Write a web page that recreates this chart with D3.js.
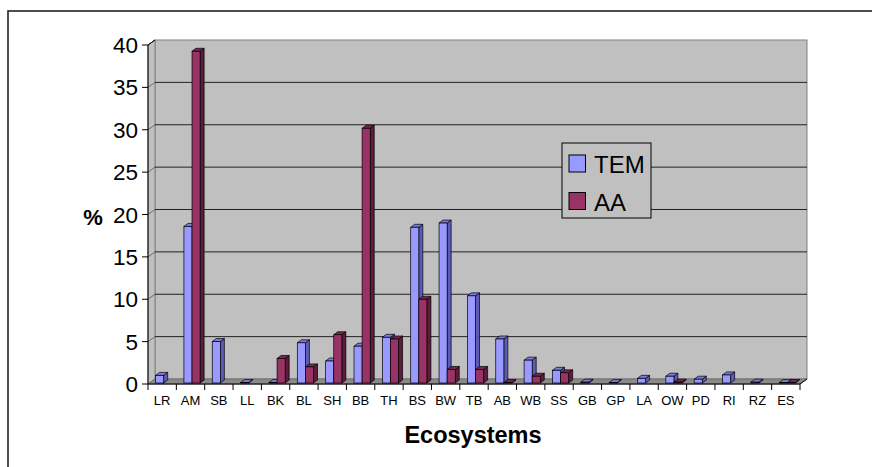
<!DOCTYPE html>
<html lang="en">
<head>
<meta charset="UTF-8">
<title>ecosystems</title>
<script src="https://cdn.jsdelivr.net/npm/d3@7"></script>
<style>
  body { margin: 0; background: #fff; }
  text { font-family: Arial, "Liberation Sans", sans-serif; }
</style>
</head>
<body>
<script>
// data
const categories = ['LR', 'AM', 'SB', 'LL', 'BK', 'BL', 'SH', 'BB', 'TH', 'BS', 'BW', 'TB',
  'AB', 'WB', 'SS', 'GB', 'GP', 'LA', 'OW', 'PD', 'RI', 'RZ', 'ES'];
const temValues = [0.9, 18.5, 4.9, 0.05, 0.05, 4.75, 2.6, 4.35, 5.4, 18.4, 18.9, 10.3,
  5.2, 2.7, 1.5, 0.1, 0.05, 0.55, 0.8, 0.45, 0.95, 0.1, 0.05];
const aaValues = [null, 39.2, null, null, 2.9, 1.9, 5.7, 30.1, 5.2, 9.9, 1.6, 1.6,
  0.05, 0.8, 1.2, null, null, null, 0.1, null, null, null, 0.05];
const yTicks = [0, 5, 10, 15, 20, 25, 30, 35, 40];
const seriesNames = ['TEM', 'AA'];

const width = 872, height = 467;
const x0 = 148, x1 = 800, yBase = 384;
const dx = 7, dy = -5;           // depth of the 3d walls
const bdx = 4, bdy = -3;         // depth of each bar

const colors = {
  TEM: { front: '#9999ff', side: '#5c5cb8', top: '#7a7ae0' },
  AA: { front: '#993366', side: '#5a1e3c', top: '#7a2852' }
};

const svg = d3.select('body').append('svg')
  .attr('width', width)
  .attr('height', height);

// outer frame
svg.append('rect')
  .attr('x', 8).attr('y', 11)
  .attr('width', 900).attr('height', 500)
  .attr('fill', 'none')
  .attr('stroke', '#222')
  .attr('stroke-width', 1.6);

const x = d3.scaleBand().domain(categories).range([x0, x1]);
const yFront = d3.scaleLinear().domain([0, 40]).range([yBase, 45]);
const yBack = d3.scaleLinear().domain([0, 40]).range([yBase + dy, 45 + dy]);
const yBar = d3.scaleLinear().domain([0, 40]).range([yBase - 1, 44.5]);

// walls
const walls = svg.append('g').attr('class', 'walls');
walls.append('rect')
  .attr('x', x0 + dx).attr('y', yBack(40))
  .attr('width', x1 - x0).attr('height', yBack(0) - yBack(40))
  .attr('fill', '#c0c0c0')
  .attr('stroke', '#808080');
walls.append('polygon')
  .attr('points', [[x0, yFront(40)], [x0 + dx, yBack(40)], [x0 + dx, yBack(0)], [x0, yFront(0)]].join(' '))
  .attr('fill', '#c0c0c0')
  .attr('stroke', '#808080');
walls.append('polygon')
  .attr('points', [[x0, yFront(0)], [x0 + dx, yBack(0)], [x1 + dx, yBack(0)], [x1, yFront(0)]].join(' '))
  .attr('fill', '#8a8a8a')
  .attr('stroke', '#707070');

// gridlines on back and side wall
const grid = svg.append('g').attr('class', 'grid');
grid.selectAll('line.h')
  .data(yTicks.filter(d => d > 0 && d < 40))
  .enter().append('line')
  .attr('class', 'h')
  .attr('x1', x0 + dx).attr('x2', x1 + dx)
  .attr('y1', d => yBack(d)).attr('y2', d => yBack(d))
  .attr('stroke', '#222').attr('stroke-width', 1);
grid.selectAll('line.d')
  .data(yTicks.filter(d => d > 0))
  .enter().append('line')
  .attr('class', 'd')
  .attr('x1', x0).attr('x2', x0 + dx)
  .attr('y1', d => yFront(d)).attr('y2', d => yBack(d))
  .attr('stroke', '#555').attr('stroke-width', 0.8);

// bars
const bw = x.bandwidth() / 3.5;
const bars = [];
categories.forEach(function (c, i) {
  const cx = x(c) + x.bandwidth() / 2 + 1.5;
  if (temValues[i] != null) bars.push({ s: 'TEM', v: temValues[i], left: cx - bw });
  if (aaValues[i] != null) bars.push({ s: 'AA', v: aaValues[i], left: cx });
});

function drawBar(g, d) {
  const l = d.left, r = d.left + bw;
  const b = yBar(0), t = yBar(d.v);
  const c = colors[d.s];
  g.append('polygon')
    .attr('points', [[r, t], [r + bdx, t + bdy], [r + bdx, b + bdy], [r, b]].join(' '))
    .attr('fill', c.side).attr('stroke', '#000').attr('stroke-width', 0.7);
  g.append('polygon')
    .attr('points', [[l, t], [l + bdx, t + bdy], [r + bdx, t + bdy], [r, t]].join(' '))
    .attr('fill', c.top).attr('stroke', '#000').attr('stroke-width', 0.7);
  g.append('rect')
    .attr('x', l).attr('y', t)
    .attr('width', bw).attr('height', b - t)
    .attr('fill', c.front).attr('stroke', '#000').attr('stroke-width', 0.7);
}

const barsG = svg.append('g').attr('class', 'bars');
bars.forEach(d => drawBar(barsG.append('g'), d));

// axes
const axesG = svg.append('g').attr('class', 'axes');
axesG.append('line')
  .attr('x1', x0).attr('x2', x0)
  .attr('y1', yFront(40)).attr('y2', yFront(0))
  .attr('stroke', '#000');
axesG.append('line')
  .attr('x1', x0).attr('x2', x1)
  .attr('y1', yBase).attr('y2', yBase)
  .attr('stroke', '#000');
axesG.append('line')
  .attr('x1', x1).attr('x2', x1 + dx)
  .attr('y1', yBase).attr('y2', yBase + dy)
  .attr('stroke', '#000');
axesG.append('line')
  .attr('x1', x0).attr('x2', x0 + dx)
  .attr('y1', yFront(40)).attr('y2', yBack(40))
  .attr('stroke', '#000');

axesG.selectAll('line.ytick')
  .data(yTicks)
  .enter().append('line')
  .attr('class', 'ytick')
  .attr('x1', x0 - 6).attr('x2', x0)
  .attr('y1', d => yFront(d)).attr('y2', d => yFront(d))
  .attr('stroke', '#000');
axesG.selectAll('text.ylab')
  .data(yTicks)
  .enter().append('text')
  .attr('class', 'ylab')
  .attr('x', x0 - 10)
  .attr('y', d => yFront(d) + 8)
  .attr('text-anchor', 'end')
  .attr('font-size', 22.5)
  .text(d => d);

const xTickPos = categories.map(c => x(c)).concat([x1]);
axesG.selectAll('line.xtick')
  .data(xTickPos)
  .enter().append('line')
  .attr('class', 'xtick')
  .attr('x1', d => d).attr('x2', d => d)
  .attr('y1', yBase).attr('y2', yBase + 6)
  .attr('stroke', '#000');
axesG.selectAll('text.xlab')
  .data(categories)
  .enter().append('text')
  .attr('class', 'xlab')
  .attr('x', d => x(d) + x.bandwidth() / 2)
  .attr('y', yBase + 21)
  .attr('text-anchor', 'middle')
  .attr('font-size', 13)
  .text(d => d);

// axis titles
svg.append('text')
  .attr('x', 93).attr('y', 225)
  .attr('text-anchor', 'middle')
  .attr('font-size', 22)
  .attr('font-weight', 'bold')
  .text('%');
svg.append('text')
  .attr('x', 473).attr('y', 443)
  .attr('text-anchor', 'middle')
  .attr('font-size', 23.5)
  .attr('font-weight', 'bold')
  .text('Ecosystems');

// legend
const legend = svg.append('g').attr('class', 'legend');
legend.append('rect')
  .attr('x', 562).attr('y', 143)
  .attr('width', 89).attr('height', 75)
  .attr('fill', '#c0c0c0')
  .attr('stroke', '#000');
const items = legend.selectAll('g.item')
  .data(seriesNames)
  .enter().append('g')
  .attr('class', 'item')
  .attr('transform', (d, i) => 'translate(569,' + (155 + i * 37.5) + ')');
items.append('rect')
  .attr('width', 16.5).attr('height', 17)
  .attr('fill', d => colors[d].front)
  .attr('stroke', '#000');
items.append('text')
  .attr('x', 25).attr('y', 18)
  .attr('font-size', 24)
  .text(d => d);
</script>
</body>
</html>
